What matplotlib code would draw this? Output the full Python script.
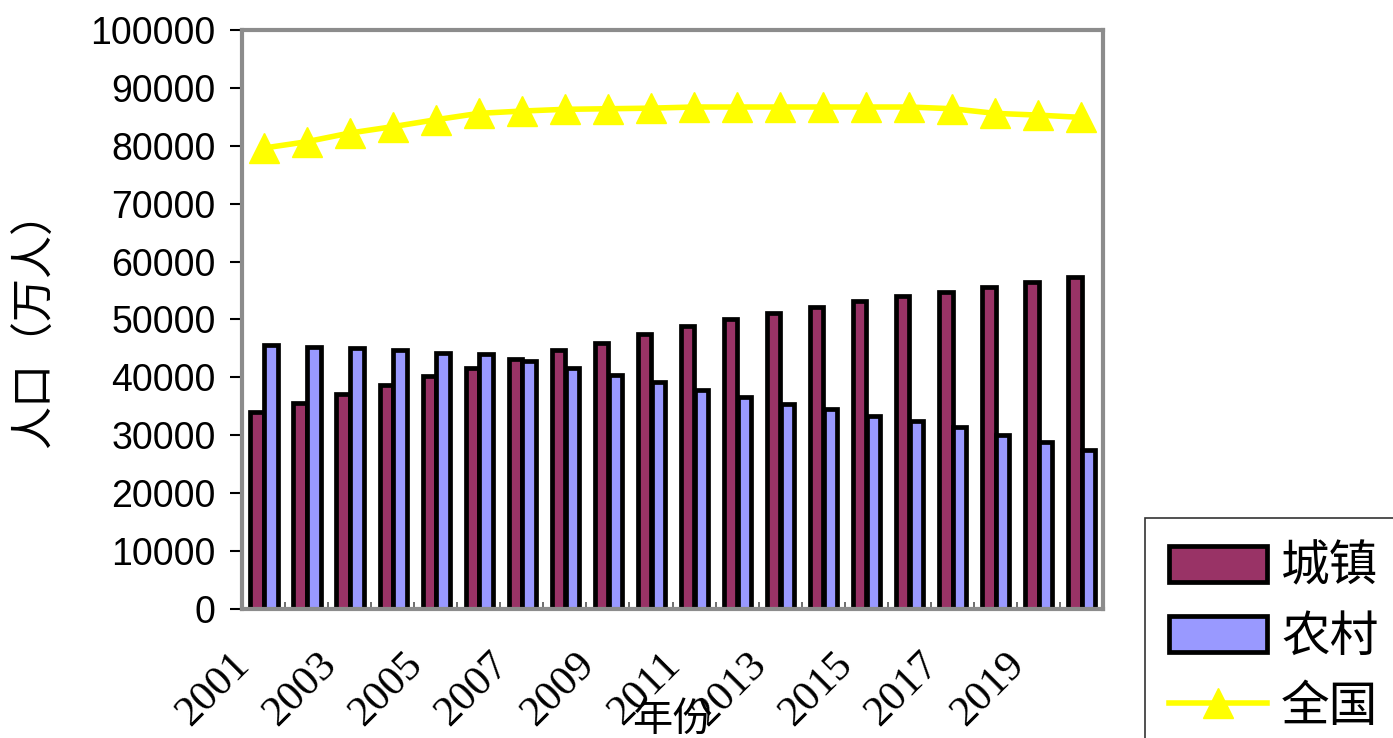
import numpy as np
import matplotlib
matplotlib.use("Agg")
import matplotlib.pyplot as plt
from matplotlib.ticker import FixedLocator

plt.rcParams['font.family'] = ['Liberation Sans', 'Noto Sans CJK SC', 'DejaVu Sans']

# data (万人)
years = list(range(2001, 2021))
urban = [34000, 35600, 37100, 38700, 40200, 41600, 43200, 44700, 45900, 47500,
         48900, 50100, 51100, 52200, 53200, 54100, 54800, 55600, 56500, 57300]
rural = [45600, 45300, 45100, 44700, 44200, 44000, 42900, 41600, 40400, 39200,
         37800, 36700, 35400, 34500, 33400, 32500, 31500, 30000, 28800, 27500]
total = [79600, 80700, 82200, 83300, 84500, 85600, 86000, 86300, 86400, 86500,
         86700, 86700, 86700, 86700, 86700, 86700, 86400, 85600, 85300, 84900]
tick_years = [str(y) for y in years[::2]]

fig = plt.figure(figsize=(13.93, 7.38), dpi=100)
ax = fig.add_axes([242 / 1393, 1 - 609 / 738, (1103 - 242) / 1393, (609 - 30) / 738])

x = np.arange(len(years))
w = 0.31
b1 = ax.bar(x - 0.15, urban, w, color="#993366", edgecolor="black", linewidth=3.4, label="城镇", zorder=2)
b2 = ax.bar(x + 0.17, rural, w, color="#9999FF", edgecolor="black", linewidth=3.4, label="农村", zorder=2)
ln, = ax.plot(x, total, color="#FFFF00", lw=4, marker="^", ms=21, label="全国", zorder=3)

ax.set_xlim(-0.5, len(years) - 0.5)
ax.set_ylim(0, 100000)
ax.set_yticks(np.arange(0, 100001, 10000))
ax.tick_params(axis="y", direction="out", length=9, width=1.5, labelsize=27, pad=10)

# group boundary ticks, labels on minor ticks
ax.xaxis.set_major_locator(FixedLocator(np.arange(-0.5, len(years), 1)))
ax.set_xticklabels([])
ax.tick_params(axis="x", which="major", direction="in", length=5, width=1.2, color="#555555")
ax.xaxis.set_minor_locator(FixedLocator(x[::2] - 0.45))
ax.set_xticklabels(tick_years, minor=True, rotation=45, ha="right", va="center",
                   rotation_mode="anchor", family="Liberation Serif", fontsize=31)
ax.tick_params(axis="x", which="minor", length=0, pad=36)

for s in ax.spines.values():
    s.set_color("#8c8c8c")
    s.set_linewidth(3)

ax.set_ylabel("人口（万人）", family=["Noto Sans CJK SC"], fontsize=31, labelpad=12)
ax.yaxis.set_label_coords(-0.215, 0.5)
ax.set_xlabel("年份", family=["Noto Sans CJK SC"], fontsize=29)
ax.xaxis.set_label_coords(0.5, -0.155)

leg = fig.legend(handles=[b1, b2, ln], loc="upper left",
                 bbox_to_anchor=(1145 / 1393, 1 - 518 / 738),
                 prop={"family": "Noto Sans CJK SC", "size": 35},
                 frameon=True, fancybox=False, edgecolor="black",
                 handlelength=2.0, handleheight=0.75, labelspacing=0.42,
                 borderpad=0.5, handletextpad=0.3, borderaxespad=0)
leg.get_frame().set_linewidth(1.2)

fig.savefig("out.png", dpi=100, facecolor="white")
